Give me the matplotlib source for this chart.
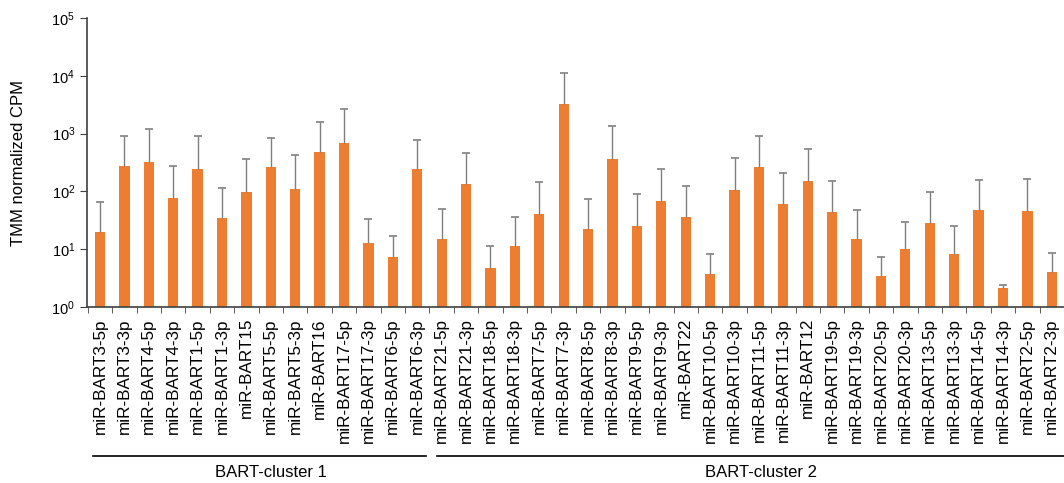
import matplotlib

matplotlib.use("Agg")
import matplotlib.pyplot as plt
import numpy as np

plt.rcParams["font.family"] = ["Liberation Sans", "DejaVu Sans"]

# miRNA names, left to right
cluster1 = ["miR-BART3-5p", "miR-BART3-3p", "miR-BART4-5p", "miR-BART4-3p",
            "miR-BART1-5p", "miR-BART1-3p", "miR-BART15", "miR-BART5-5p",
            "miR-BART5-3p", "miR-BART16", "miR-BART17-5p", "miR-BART17-3p",
            "miR-BART6-5p", "miR-BART6-3p"]
cluster2 = ["miR-BART21-5p", "miR-BART21-3p", "miR-BART18-5p", "miR-BART18-3p",
            "miR-BART7-5p", "miR-BART7-3p", "miR-BART8-5p", "miR-BART8-3p",
            "miR-BART9-5p", "miR-BART9-3p", "miR-BART22", "miR-BART10-5p",
            "miR-BART10-3p", "miR-BART11-5p", "miR-BART11-3p", "miR-BART12",
            "miR-BART19-5p", "miR-BART19-3p", "miR-BART20-5p", "miR-BART20-3p",
            "miR-BART13-5p", "miR-BART13-3p", "miR-BART14-5p", "miR-BART14-3p",
            "miR-BART2-5p", "miR-BART2-3p"]

# mean TMM normalized CPM
mean1 = [20, 275, 327, 77, 247, 35, 99, 261, 111, 475, 698, 13, 7.3, 241]
mean2 = [15, 132, 4.8, 11.3, 41.5, 3225, 22.5, 368, 25.4, 68, 36.8, 3.7,
         104, 261, 60, 151, 44.4, 15, 3.4, 10, 27.9, 8.3, 48.7, 2.1, 46.8, 4.0]

# top of the error bar (mean + SD)
upper1 = [67, 900, 1190, 271, 900, 117, 364, 852, 421, 1593, 2642, 33, 16.8, 777]
upper2 = [49, 462, 11.3, 36, 147, 11130, 73.6, 1358, 90, 244, 124, 8.2,
          374, 923, 208, 542, 149, 47.5, 7.4, 29.8, 96, 25, 159, 2.44, 164, 8.6]

labels = cluster1 + cluster2
means = np.array(mean1 + mean2)
uppers = np.array(upper1 + upper2)
x = np.arange(len(labels))

ORANGE = "#ED7D31"
GREY = "#7F7F7F"
AXIS = "#404040"

fig = plt.figure(figsize=(10.64, 4.83), dpi=100)
ax = fig.add_axes([0.0818, 0.3644, 0.9182, 0.598])

ax.bar(x, means, width=0.42, color=ORANGE, zorder=2)
ax.vlines(x, means, uppers, color=GREY, linewidth=1.0, zorder=3)
ax.plot(x, uppers, linestyle="", marker="_", markersize=6,
        markeredgewidth=1.2, color=GREY, zorder=3)

ax.set_yscale("log")
ax.set_ylim(1, 1e5)
ax.set_xlim(-0.53, 39.35)
ax.yaxis.set_minor_locator(matplotlib.ticker.NullLocator())
ax.set_ylabel("TMM normalized CPM", fontsize=12)
ax.yaxis.set_label_coords(-0.0625, 0.5)

ax.set_xticks(x)
ax.set_xticklabels(labels, rotation=90, fontsize=12.3)
ax.set_xticks(np.arange(len(labels) + 1) - 0.5, minor=True)
ax.tick_params(axis="x", which="major", length=0, pad=8)
ax.tick_params(axis="x", which="minor", length=4, direction="out", color=AXIS)
ax.tick_params(axis="y", labelsize=10.5, length=5, color=AXIS)

for side in ("top", "right"):
    ax.spines[side].set_visible(False)
for side in ("left", "bottom"):
    ax.spines[side].set_color(AXIS)
    ax.spines[side].set_linewidth(1.2)

# cluster brackets under the labels
trans = ax.get_xaxis_transform()
ax.plot([-0.3, 13.35], [-0.516, -0.516], color="black", linewidth=1.2,
        transform=trans, clip_on=False)
ax.plot([13.8, 39.6], [-0.516, -0.516], color="black", linewidth=1.2,
        transform=trans, clip_on=False)
ax.text(7.0, -0.572, "BART-cluster 1", transform=trans, ha="center",
        va="center", fontsize=12)
ax.text(27.1, -0.572, "BART-cluster 2", transform=trans, ha="center",
        va="center", fontsize=12)

fig.savefig("out.png", dpi=100)
